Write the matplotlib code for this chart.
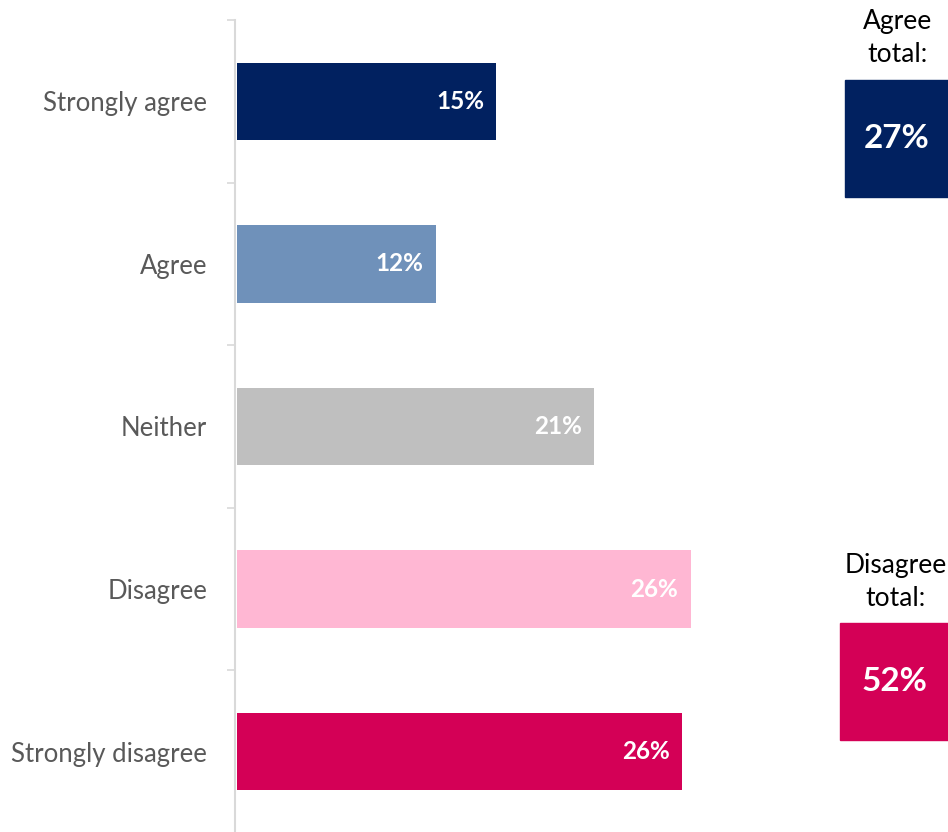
import matplotlib
matplotlib.use("Agg")
import matplotlib.pyplot as plt
from matplotlib.patches import Rectangle

# ---- data ---------------------------------------------------------------
categories = ["Strongly agree", "Agree", "Neither", "Disagree", "Strongly disagree"]
values = [15.1, 11.6, 20.8, 26.4, 25.9]
value_labels = ["15%", "12%", "21%", "26%", "26%"]
bar_colors = ["#012160", "#6F91BA", "#BFBFBF", "#FFB7D3", "#D40056"]

total_titles = ["Agree\ntotal:", "Disagree\ntotal:"]
total_labels = ["27%", "52%"]
total_colors = ["#012160", "#D40056"]

plt.rcParams["font.family"] = ["Lato", "DejaVu Sans"]

W, H = 948, 832
fig = plt.figure(figsize=(W / 100, H / 100), dpi=100)

# axes: left edge at x=235px, top at y=20px, bottom at figure bottom
ax_left, ax_right = 235, 835
ax = fig.add_axes([ax_left / W, -1 / H, (ax_right - ax_left) / W, (H - 20 + 1) / H])

y = list(range(len(categories)))
ax.barh(y, values, height=0.475, color=bar_colors, left=0.1)
ax.set_ylim(len(categories) - 0.5, -0.5)
ax.set_xlim(0, (ax_right - ax_left) / 17.2)

for yi, v, lab in zip(y, values, value_labels):
    ax.annotate(lab, (v + 0.1, yi), xytext=(-9, 0), textcoords="offset points",
                ha="right", va="center", color="white", fontsize=17.5,
                fontweight="bold")

ax.set_yticks([i - 0.5 for i in range(len(categories) + 1)])
ax.set_yticklabels([])
ax.set_yticks(y, minor=True)
ax.set_yticklabels(categories, minor=True, fontsize=18.5, color="#595959")
ax.tick_params(axis="y", which="major", length=6, color="#D9D9D9", width=1.2)
ax.tick_params(axis="y", which="minor", length=0, pad=20)
ax.set_xticks([])
for s in ("top", "right", "bottom"):
    ax.spines[s].set_visible(False)
ax.spines["left"].set_color("#D9D9D9")
ax.spines["left"].set_linewidth(1.5)

# ---- total boxes (figure pixel coords) ----------------------------------
boxes = [(845, 80, 103, 117, 898, 9), (840, 623, 108, 117, 896, 553)]
for (bx, by, bw, bh, tx, ty), title, lab, col in zip(boxes, total_titles,
                                                       total_labels, total_colors):
    fig.patches.append(Rectangle((bx / W, 1 - (by + bh) / H), bw / W, bh / H,
                                 transform=fig.transFigure, color=col))
    fig.text(tx / W, 1 - ty / H, title, ha="center", va="top", fontsize=19,
             color="black", linespacing=1.4)
    fig.text((bx + bw / 2) / W, 1 - (by + bh / 2) / H, lab, ha="center",
             va="center", fontsize=24, fontweight="bold", color="white")

fig.savefig("out.png", dpi=100)
